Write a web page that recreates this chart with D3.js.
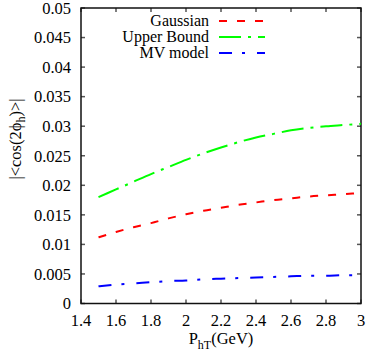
<!DOCTYPE html>
<html>
<head>
<meta charset="utf-8">
<script src="https://d3js.org/d3.v7.min.js"></script>
<style>
  body { margin: 0; background: #fff; }
</style>
</head>
<body>
<div id="chart"></div>
<script>
// data
var pt = [1.5, 1.6, 1.7, 1.8, 1.9, 2.0, 2.1, 2.2, 2.3, 2.4, 2.5, 2.6, 2.7, 2.8, 2.9, 3.0];
var gaussian = [0.0112, 0.0121, 0.0129, 0.0136, 0.0144, 0.0151, 0.0157, 0.0162, 0.0167, 0.0171, 0.0175, 0.0178, 0.0181, 0.0183, 0.0185, 0.0187];
var upperBound = [0.0180, 0.0193, 0.0206, 0.0219, 0.0231, 0.0243, 0.0254, 0.0264, 0.0273, 0.0281, 0.0287, 0.0293, 0.0297, 0.0300, 0.0302, 0.0304];
var mvModel = [0.0029, 0.0032, 0.0034, 0.0036, 0.0038, 0.0039, 0.0041, 0.0042, 0.0043, 0.0044, 0.0045, 0.0046, 0.0047, 0.0047, 0.0048, 0.0048];
var seriesNames = ["Gaussian", "Upper Bound", "MV model"];
var xTicks = [1.4, 1.6, 1.8, 2.0, 2.2, 2.4, 2.6, 2.8, 3.0];
var yTicks = [0, 0.005, 0.01, 0.015, 0.02, 0.025, 0.03, 0.035, 0.04, 0.045, 0.05];

var serif = "'Liberation Serif'";
var fs = "16.5px";

var svgWidth = 382, svgHeight = 354;
var margin = { top: 8, right: 21, bottom: 50.5, left: 81 };
var width = svgWidth - margin.left - margin.right;
var height = svgHeight - margin.top - margin.bottom;

var svg = d3.select("#chart").append("svg")
    .attr("width", svgWidth)
    .attr("height", svgHeight)
    .style("font-family", serif);

var g = svg.append("g")
    .attr("transform", `translate(${margin.left}, ${margin.top})`);

var x = d3.scaleLinear().domain([1.4, 3]).range([0, width]);
var y = d3.scaleLinear().domain([0, 0.05]).range([height, 0]);

// ticks (inward, on all four sides)
var tickLen = 4;
xTicks.forEach(function (t) {
    g.append("line").attr("x1", x(t)).attr("x2", x(t))
        .attr("y1", height).attr("y2", height - tickLen)
        .attr("stroke", "#555").attr("stroke-width", 1.5);
    g.append("line").attr("x1", x(t)).attr("x2", x(t))
        .attr("y1", 0).attr("y2", tickLen)
        .attr("stroke", "#555").attr("stroke-width", 1.5);
    g.append("text")
        .attr("x", x(t)).attr("y", height + 22)
        .attr("text-anchor", "middle")
        .style("font-family", serif)
        .style("font-size", fs)
        .text(d3.format("~g")(t));
});
yTicks.forEach(function (t) {
    g.append("line").attr("x1", 0).attr("x2", tickLen)
        .attr("y1", y(t)).attr("y2", y(t))
        .attr("stroke", "#555").attr("stroke-width", 1.5);
    g.append("line").attr("x1", width).attr("x2", width - tickLen)
        .attr("y1", y(t)).attr("y2", y(t))
        .attr("stroke", "#555").attr("stroke-width", 1.5);
    g.append("text")
        .attr("x", -10).attr("y", y(t))
        .attr("dy", "0.35em")
        .attr("text-anchor", "end")
        .style("font-family", serif)
        .style("font-size", fs)
        .text(d3.format("~g")(t));
});

// frame
g.append("rect")
    .attr("x", 0).attr("y", 0)
    .attr("width", width).attr("height", height)
    .attr("fill", "none")
    .attr("stroke", "#111")
    .attr("stroke-width", 1.5);

// curves
var colors = ["#ff0000", "#00ff00", "#0000ff"];
var dashes = ["8,10", "22,7,3,7", "13,10,3,12"];
var allSeries = [gaussian, upperBound, mvModel];

var line = d3.line()
    .x(function (d, i) { return x(pt[i]); })
    .y(function (d) { return y(d); })
    .curve(d3.curveMonotoneX);

allSeries.forEach(function (s, k) {
    g.append("path")
        .datum(s)
        .attr("d", line)
        .attr("fill", "none")
        .attr("stroke", colors[k])
        .attr("stroke-width", 2)
        .attr("stroke-dasharray", dashes[k]);
});

// legend
seriesNames.forEach(function (name, k) {
    var ly = 13 + k * 16;
    g.append("text")
        .attr("x", 128).attr("y", ly)
        .attr("dy", "0.33em")
        .attr("text-anchor", "end")
        .style("font-family", serif)
        .style("font-size", "16px")
        .text(name);
    g.append("line")
        .attr("x1", 138).attr("x2", 184)
        .attr("y1", ly).attr("y2", ly)
        .attr("stroke", colors[k])
        .attr("stroke-width", 2)
        .attr("stroke-dasharray", dashes[k]);
});

// axis titles
var yl = svg.append("text")
    .attr("transform", "translate(21, 139) rotate(-90)")
    .attr("text-anchor", "middle")
    .style("font-family", serif)
    .style("font-size", fs);
yl.append("tspan").text("|<cos(2\u03D5");
yl.append("tspan").style("font-size", "12px").attr("dy", "4").text("h");
yl.append("tspan").attr("dy", "-4").text(")>|");

var xl = svg.append("text")
    .attr("x", 221).attr("y", 344)
    .attr("text-anchor", "middle")
    .style("font-family", serif)
    .style("font-size", fs);
xl.append("tspan").text("P");
xl.append("tspan").style("font-size", "12px").attr("dy", "5").text("hT");
xl.append("tspan").attr("dy", "-5").text("(GeV)");
</script>
</body>
</html>
